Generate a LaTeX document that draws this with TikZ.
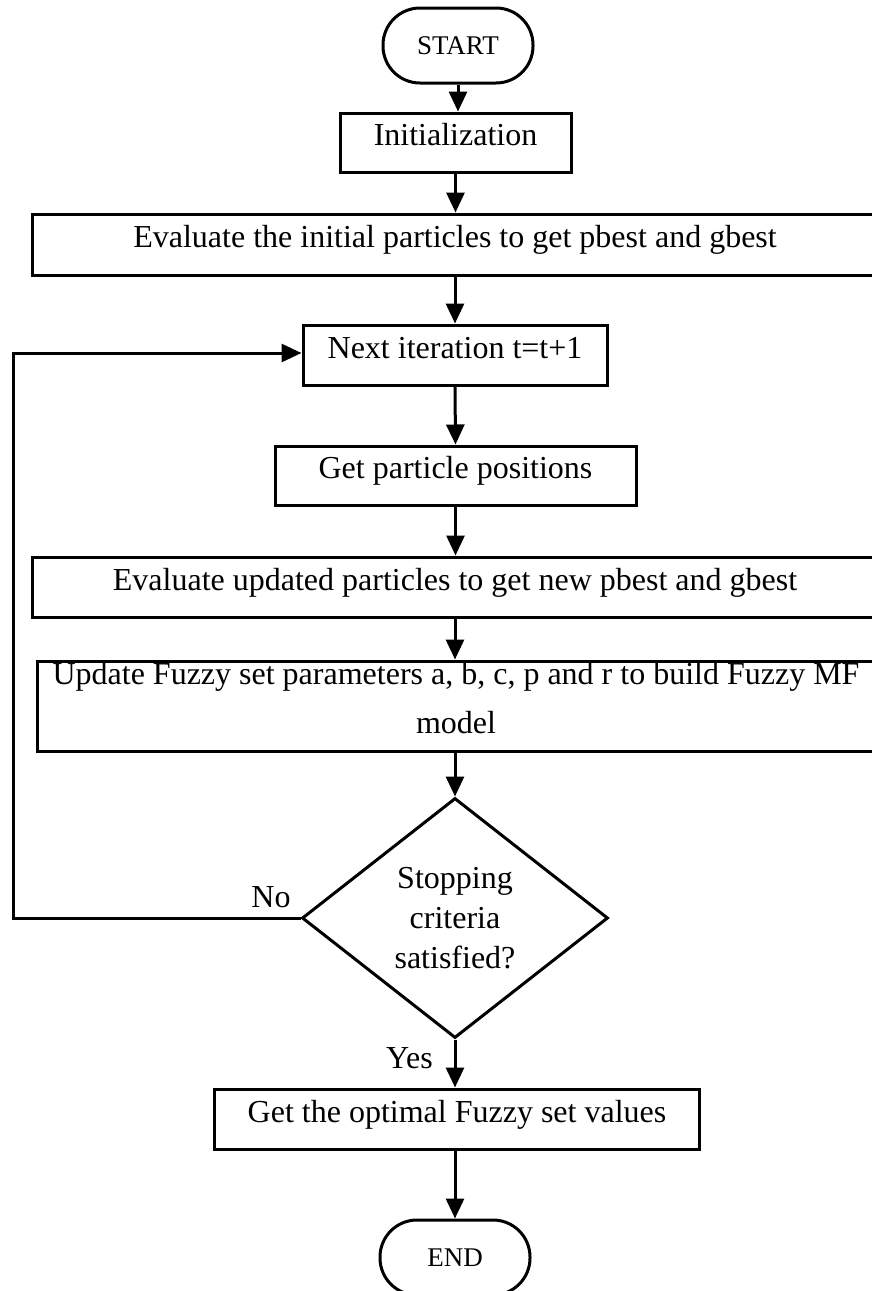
\documentclass[tikz,border=0pt]{standalone}
\usepackage{fontspec}
\setmainfont{Liberation Serif}
\usetikzlibrary{arrows.meta,shapes.geometric}
\tikzset{
  x=1pt, y=-1pt,
  every node/.style={font=\fontsize{32}{38}\selectfont},
  box/.style={draw, line width=3pt, rectangle, inner sep=0pt, text height=22pt, text depth=15.5pt},
  term/.style={draw, line width=3pt, rectangle, rounded corners=37pt, minimum width=150pt, minimum height=75pt, inner sep=0pt, font=\fontsize{27}{30}\selectfont},
  decision/.style={draw, line width=3pt, diamond, minimum width=306pt, minimum height=240pt, inner sep=0pt, align=center, font=\fontsize{32}{40}\selectfont},
  flow/.style={line width=3pt, -{Triangle[length=20pt, width=18pt]}},
  lbl/.style={inner sep=0pt},
}
\begin{document}
\begin{tikzpicture}
\clip (0,0) rectangle (872,1291);
\fill[white] (0,0) rectangle (872,1291);
\node[term] (start) at (458,45.5) {START};
\node[box, minimum width=231pt, minimum height=59pt] (init) at (455.5,142.5) {Initialization};
\node[box, minimum width=846pt, minimum height=61pt] (eval1) at (455,244.5) {Evaluate the initial particles to get pbest and gbest};
\node[box, minimum width=304pt, minimum height=60pt] (next) at (455,355) {Next iteration t=t+1};
\node[box, minimum width=361pt, minimum height=59pt] (getpos) at (455.5,475.5) {Get particle positions};
\node[box, minimum width=846pt, minimum height=60pt] (eval2) at (455,587) {Evaluate updated particles to get new pbest and gbest};
\node[box, minimum width=838pt, minimum height=90pt, align=center, text height=62pt, text depth=8pt, font=\fontsize{32}{49}\selectfont] (update) at (456,706) {Update Fuzzy set parameters a, b, c, p and r to build Fuzzy MF\\model};
\node[decision] (dec) at (455,918) {Stopping\\criteria\\satisfied?};
\node[box, minimum width=485pt, minimum height=60pt] (opt) at (457,1119) {Get the optimal Fuzzy set values};
\node[term] (end) at (455,1257.5) {END};
\node[lbl] (no) at (271,897) {No};
\node[lbl] (yes) at (409.5,1058) {Yes};
\coordinate (loopa) at (13,918);
\coordinate (loopb) at (13,353);

\draw[flow] (start.south) -- (start.south |- init.north);
\draw[flow] (init.south) -- (init.south |- eval1.north);
\draw[flow] (next.north |- eval1.south) -- (next.north);
\draw[flow] (next.south) -- (getpos.north);
\draw[flow] (getpos.south) -- (getpos.south |- eval2.north);
\draw[flow] (dec.north |- eval2.south) -- (dec.north |- update.north);
\draw[flow] (dec.north |- update.south) -- (dec.north);
\draw[flow] (dec.south) -- (dec.south |- opt.north);
\draw[flow] (dec.south |- opt.south) -- (end.north);
\draw[flow] (dec.west) -- (loopa) -- (loopb) -- (next.west |- loopb);
\end{tikzpicture}
\end{document}
